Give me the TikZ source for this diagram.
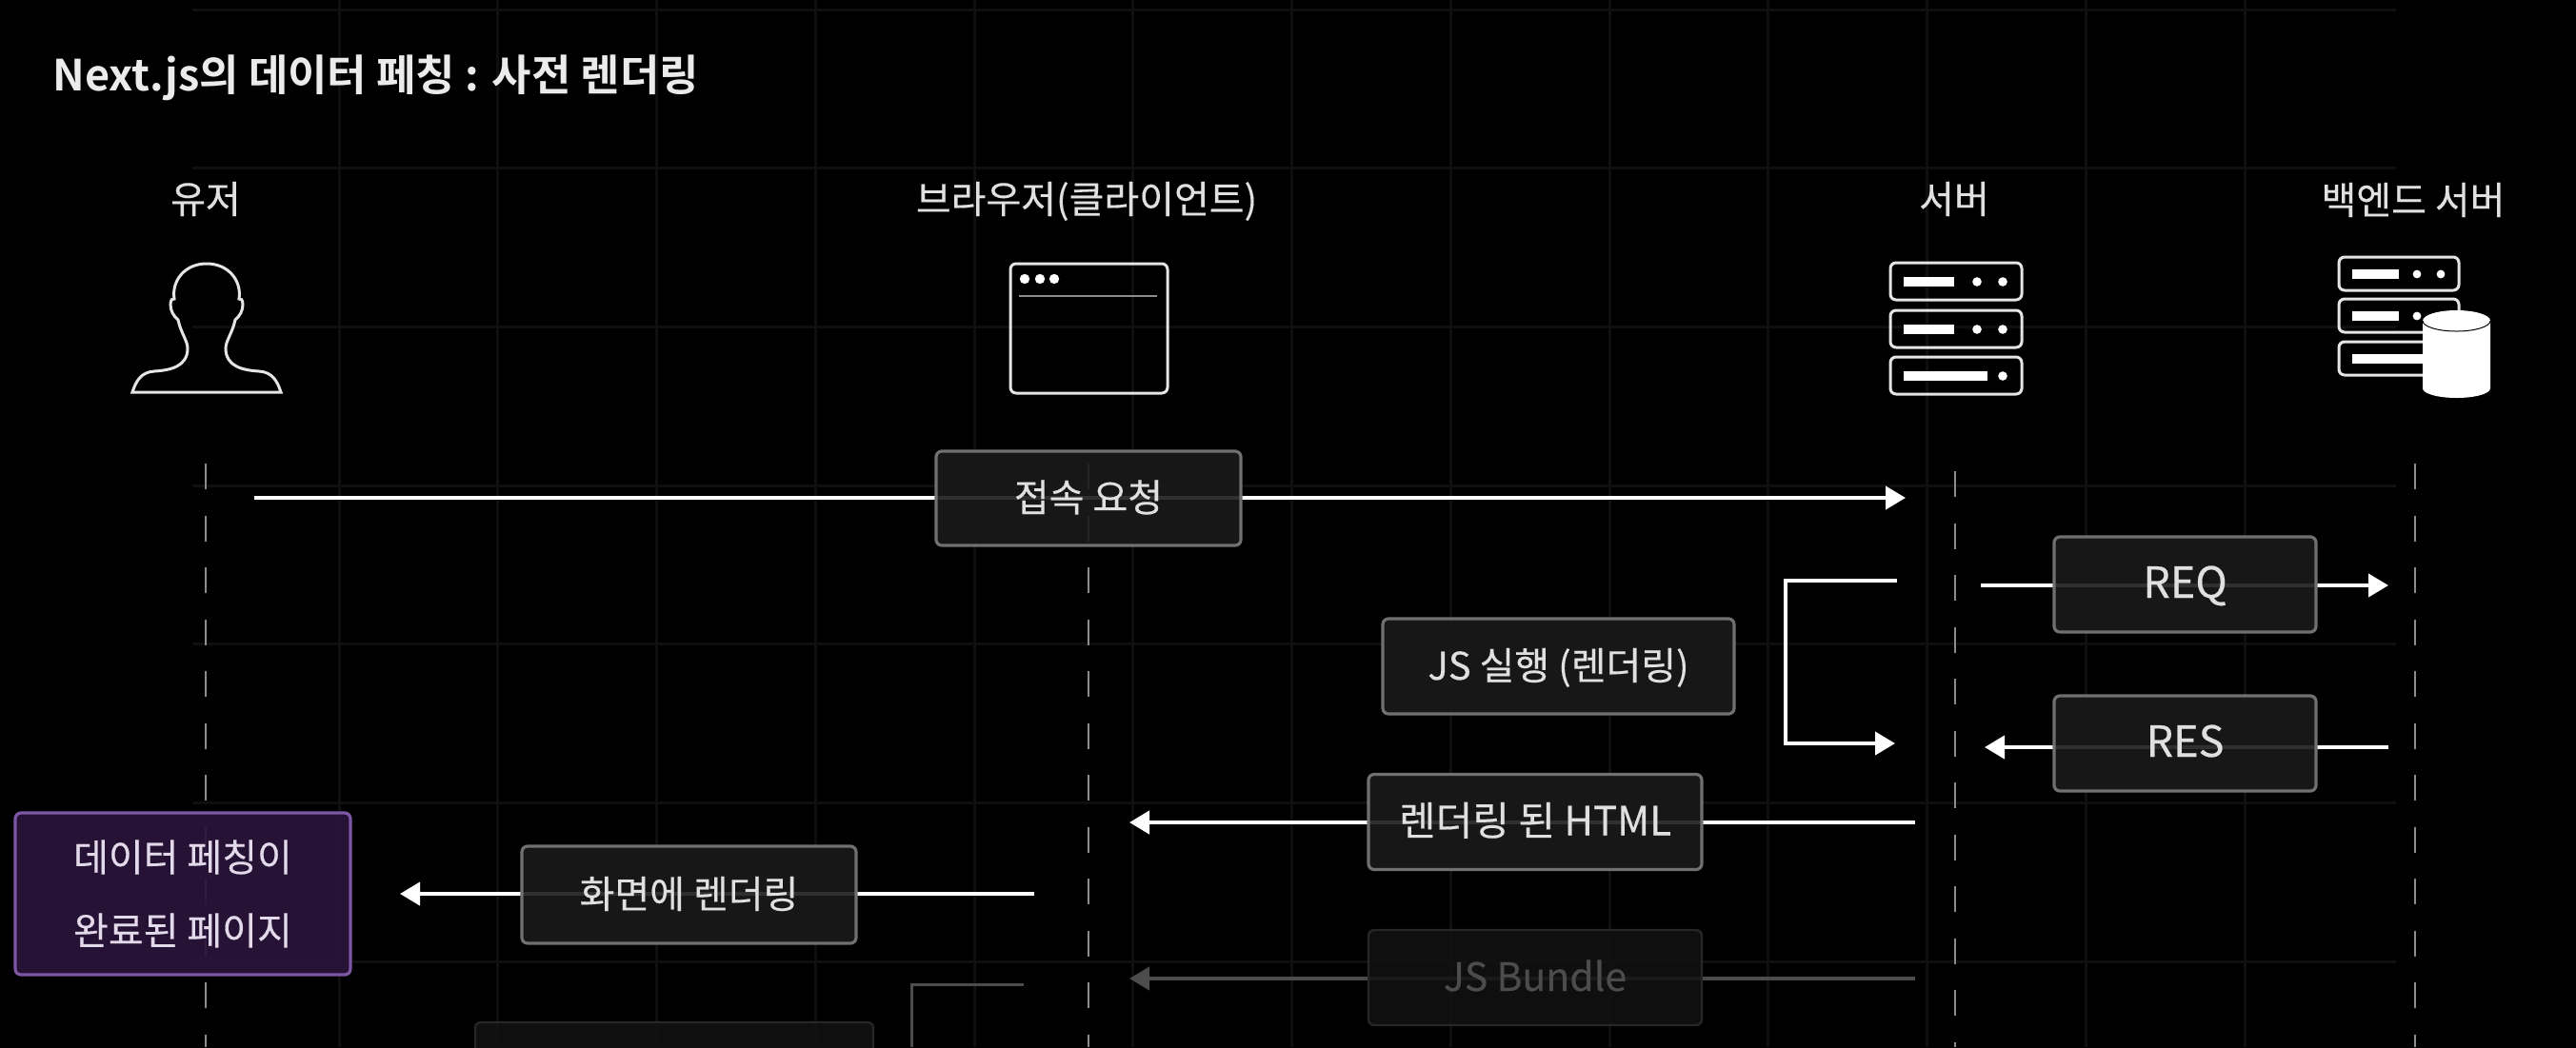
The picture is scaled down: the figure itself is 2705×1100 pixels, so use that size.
\documentclass[tikz,border=0pt]{standalone}
\usepackage{fontspec}
\setmainfont[FakeBold=0.35, BoldFont={Noto Sans CJK KR Bold}, BoldFeatures={FakeBold=0}]{Noto Sans CJK KR}
\usetikzlibrary{arrows.meta}

\definecolor{gridline}{HTML}{0F0F0F}
\definecolor{boxfill}{HTML}{1A1A1A}
\definecolor{boxline}{HTML}{707070}
\definecolor{fadeline}{HTML}{4C4C4C}
\definecolor{fadefill}{HTML}{121212}
\definecolor{fadeedge}{HTML}{262626}
\definecolor{pagefill}{HTML}{28143A}
\definecolor{pageline}{HTML}{7C58A4}
\definecolor{pagetext}{HTML}{E2DAEA}

\tikzset{
  label/.style={text=white!88!black, text height=18pt, text depth=4pt,
    font=\fontsize{20pt}{24pt}\selectfont},
  msgbox/.style={draw=boxline, fill=boxfill, fill opacity=0.9, text opacity=1,
    line width=1.6pt, rounded corners=3pt, text=white!88!black,
    text height=18pt, text depth=4pt, font=\fontsize{20pt}{24pt}\selectfont},
  fadebox/.style={draw=fadeedge, fill=fadefill, fill opacity=0.85, text opacity=1,
    line width=1.2pt, rounded corners=3pt, text=fadeline,
    text height=18pt, text depth=4pt, font=\fontsize{20.5pt}{24pt}\selectfont},
  lifeline/.style={draw=white!55!black, line width=1pt, dash pattern=on 13.5pt off 13.75pt},
  msg/.style={->, draw=white, line width=2pt},
  iconline/.style={draw=white!90!black, line width=1.5pt},
}

\begin{document}
\begin{tikzpicture}[x=0.5pt, y=-0.5pt,
    >={Triangle[length=10.5pt, width=12pt]}]
  \useasboundingbox (0, 0) rectangle (2705, 1100);
  \clip (-5, -5) rectangle (2710, 1105);
  \fill[black] (-5, -5) rectangle (2710, 1105);

  % grid
  \begin{scope}[draw=gridline, line width=1.5pt]
    \foreach \i in {0, ..., 12}{
      \draw (356 + 166.75*\i, 0) -- (356 + 166.75*\i, 1100);
    }
    \foreach \i in {0, ..., 6}{
      \draw (202, 10 + 166.7*\i) -- (2516, 10 + 166.7*\i);
    }
  \end{scope}

  % lifelines
  \foreach \x/\y in {216/487, 1143/487, 2053/495, 2536/487}{
    \draw[lifeline] (\x, \y) -- (\x, 1100);
  }

  \node[text=white!92!black, font=\bfseries\fontsize{22.5pt}{27pt}\selectfont,
        inner sep=0pt, anchor=base west]
    (title) at (55, 95) {Next.js의 데이터 페칭 : 사전 렌더링};
  \node[label] (user) at (216, 210) {유저};
  \node[label] (browser) at (1141, 210) {브라우저(클라이언트)};
  \node[label] (server) at (2052, 210) {서버};
  \node[label] (backend) at (2534, 211) {백엔드 서버};

  % user icon
  \draw[iconline] (139, 412) -- (295, 412)
    .. controls (291, 400) and (286, 391) .. (272, 390)
    .. controls (255, 389) and (237, 385) .. (237, 366)
    .. controls (237, 358) and (244, 350) .. (247, 336)
    .. controls (252, 332) and (255, 326) .. (255, 320)
    .. controls (255, 315) and (253, 313) .. (251, 314)
    .. controls (254, 295) and (240, 277) .. (217, 277)
    .. controls (194, 277) and (180, 295) .. (183, 314)
    .. controls (181, 313) and (179, 315) .. (179, 320)
    .. controls (179, 326) and (182, 332) .. (187, 336)
    .. controls (190, 350) and (197, 358) .. (197, 366)
    .. controls (197, 385) and (179, 389) .. (162, 390)
    .. controls (148, 391) and (143, 400) .. (139, 412) -- cycle;

  % browser icon
  \draw[iconline, rounded corners=3pt] (1061, 277) rectangle (1226, 413);
  \foreach \x in {1076, 1092, 1107}{
    \fill[white] (\x, 293) circle (2.6pt);
  }
  \draw[white!55!black, line width=1pt] (1070, 311) -- (1215, 311);

  % server icon
  \foreach \y in {276, 326, 375}{
    \draw[iconline, rounded corners=3pt] (1985, \y) rectangle (2123, \y + 39);
    \fill[white] (2103, \y + 20) circle (2.4pt);
  }
  \foreach \y in {276, 326}{
    \fill[white] (1999, \y + 15) rectangle (2052, \y + 25);
    \fill[white] (2076, \y + 20) circle (2.4pt);
  }
  \fill[white] (1999, 390) rectangle (2087, 400);

  % backend icon
  \foreach \y in {270, 314, 359}{
    \draw[iconline, rounded corners=3pt] (2456, \y) rectangle (2582, \y + 35);
  }
  \foreach \y in {270, 314}{
    \fill[white] (2470, \y + 13) rectangle (2519, \y + 23);
    \fill[white] (2538, \y + 18) circle (2.2pt);
    \fill[white] (2563, \y + 18) circle (2.2pt);
  }
  \fill[white] (2470, 372) rectangle (2550, 382);
  \fill[white] (2544, 337) -- (2544, 408) arc[start angle=180, end angle=0, x radius=35.5, y radius=10]
    -- (2615, 337) arc[start angle=0, end angle=-180, x radius=35.5, y radius=11] -- cycle;
  \draw[black, line width=0.5pt] (2544, 337) arc[start angle=180, end angle=0, x radius=35.5, y radius=11];

  % free ends of the messages
  \coordinate (reqfrom) at (267, 523);
  \coordinate (reqto) at (2001, 523);
  \coordinate (apifrom) at (2080, 615);
  \coordinate (apito) at (2508, 615);
  \coordinate (resfrom) at (2508, 785);
  \coordinate (resto) at (2084, 785);
  \coordinate (jsa) at (1992, 610);
  \coordinate (jsb) at (1875, 610);
  \coordinate (jsc) at (1875, 781);
  \coordinate (jsd) at (1990, 781);
  \coordinate (htmlfrom) at (2011, 864);
  \coordinate (htmlto) at (1186, 864);
  \coordinate (paintfrom) at (1086, 939);
  \coordinate (paintto) at (420, 939);
  \coordinate (bundlefrom) at (2011, 1028);
  \coordinate (bundleto) at (1186, 1028);
  \coordinate (hyda) at (1075, 1034);
  \coordinate (hydb) at (957, 1034);
  \coordinate (hydc) at (957, 1100);

  \draw[msg] (reqfrom) -- (reqto);
  \draw[msg] (apifrom) -- (apito);
  \draw[msg] (resfrom) -- (resto);
  \draw[msg] (jsa) -- (jsb) -- (jsc) -- (jsd);
  \draw[msg] (htmlfrom) -- (htmlto);
  \draw[msg] (paintfrom) -- (paintto);
  \draw[msg, draw=fadeline, fill=fadeline] (bundlefrom) -- (bundleto);
  \draw[draw=fadeline, line width=1.5pt] (hyda) -- (hydb) -- (hydc);

  \node[msgbox, minimum width=160pt, minimum height=49.5pt] (connect) at (1143, 523.5) {접속 요청};
  \node[msgbox, minimum width=137.5pt, minimum height=50pt, font=\fontsize{22.5pt}{24pt}\selectfont]
    (reqbox) at (2294.5, 614) {REQ};
  \node[msgbox, minimum width=137.5pt, minimum height=50pt, font=\fontsize{22.5pt}{24pt}\selectfont]
    (resbox) at (2294.5, 781) {RES};
  \node[msgbox, minimum width=184.5pt, minimum height=50pt] (jsrun) at (1636.5, 700) {JS 실행 (렌더링)};
  \node[msgbox, minimum width=175pt, minimum height=50pt, font=\fontsize{21pt}{24pt}\selectfont]
    (htmlbox) at (1612, 863.5) {렌더링 된 HTML};
  \node[msgbox, minimum width=175.5pt, minimum height=51pt] (paint) at (723.5, 940) {화면에 렌더링};
  \node[fadebox, minimum width=175pt, minimum height=50pt] (bundle) at (1612, 1027) {JS Bundle};
  \node[fadebox, minimum width=209pt, minimum height=50pt] (hydbox) at (708, 1124) {};
  \node[draw=pageline, fill=pagefill, fill opacity=0.93, text opacity=1, line width=1.6pt,
        rounded corners=3pt, text=pagetext, align=center,
        font=\fontsize{20pt}{38.5pt}\selectfont, minimum width=176pt, minimum height=85pt]
    (done) at (192, 939) {데이터 페칭이\\완료된 페이지};
\end{tikzpicture}
\end{document}
